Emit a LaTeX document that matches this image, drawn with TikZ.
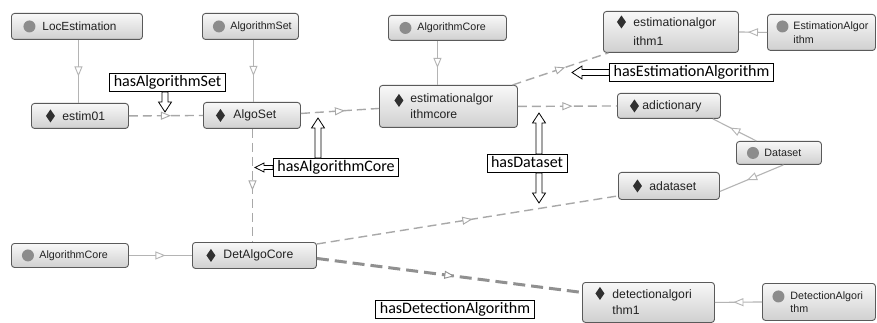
\documentclass[tikz,border=0pt]{standalone}
\usepackage{fontspec}
\setmainfont{Liberation Sans}
\newfontfamily\lblfamily{Carlito}
\usetikzlibrary{arrows.meta,decorations.markings,calc}
\definecolor{boxc}{HTML}{5A5A5A}
\definecolor{topc}{HTML}{F8F8F8}
\definecolor{botc}{HTML}{D0D0D0}
\definecolor{iconc}{HTML}{8C8C8C}
\definecolor{diac}{HTML}{303030}
\definecolor{txtc}{HTML}{222222}
\definecolor{typec}{HTML}{B4B4B4}
\definecolor{propc}{HTML}{A8A8A8}
\definecolor{thickc}{HTML}{909090}
\newcommand\indfont{\fontsize{12.2}{16}\selectfont}
\newcommand\clsfont{\fontsize{10.7}{13.5}\selectfont}
\newcommand\lblfont{\lblfamily\fontsize{16}{18}\selectfont}
\newcommand\gap[1]{\hspace*{#1pt}}
\def\blkS{3pt}\def\blkW{6.5pt}\def\blkH{10pt}
\begin{document}
\begin{tikzpicture}[x=1pt,y=-1pt,
  ent/.style={draw=boxc, line width=0.9pt, rounded corners=3pt, top color=topc, bottom color=botc,
    text=txtc, anchor=north west, inner xsep=0pt, inner ysep=0pt, align=left},
  cls/.style 2 args={ent, font=\clsfont,
    path picture={\fill[iconc] ([xshift=#1, yshift=#2]path picture bounding box.west) circle (6pt);}},
  ind/.style 2 args={ent, font=\indfont,
    path picture={\fill[diac, sharp corners] ([xshift=#1, yshift=#2]path picture bounding box.west)
      +(0pt,6.5pt) -- +(4.5pt,0pt) -- +(0pt,-6.5pt) -- +(-4.5pt,0pt) -- cycle;}},
  midarrow/.style={postaction={decorate, decoration={markings,
    mark=at position 0.5 with {\arrow[xshift=5pt]{Triangle[length=10pt,width=8pt,fill=white,line width=0.9pt]}}}}},
  typeedge/.style={draw=typec, line width=1.1pt, midarrow},
  propedge/.style={draw=propc, line width=1.4pt, dash pattern=on 9pt off 5pt, midarrow},
  thickedge/.style={draw=thickc, line width=3pt, dash pattern=on 12pt off 6pt, midarrow},
  lbl/.style={draw=black, fill=white, line width=0.8pt, font=\lblfont, text=black,
    inner xsep=4pt, inner ysep=1.5pt, text height=11.5pt, text depth=3.5pt},
  blksmall/.code={\def\blkS{2pt}\def\blkW{4.5pt}\def\blkH{9pt}},
  blk/.style={draw=black, fill=white, line width=0.8pt,
    to path={let \p1=(\tikztostart), \p2=(\tikztotarget), \n1={atan2(\y2-\y1,\x2-\x1)} in
      ([shift={(\n1+90:\blkS)}]\tikztostart)
      -- ([shift={(\n1+90:\blkS)}, shift={(\n1+180:\blkH)}]\tikztotarget)
      -- ([shift={(\n1+90:\blkW)}, shift={(\n1+180:\blkH)}]\tikztotarget)
      -- (\tikztotarget)
      -- ([shift={(\n1-90:\blkW)}, shift={(\n1+180:\blkH)}]\tikztotarget)
      -- ([shift={(\n1-90:\blkS)}, shift={(\n1+180:\blkH)}]\tikztotarget)
      -- ([shift={(\n1-90:\blkS)}]\tikztostart) -- cycle}}
]
\useasboundingbox (0,0) rectangle (877,323);
\fill[white] (0,0) rectangle (877,323);

% entities
\node[cls={18pt}{0pt}, font=\fontsize{11.8}{14}\selectfont, text width=131pt, minimum height=26pt] (loc) at (11,13) {\gap{31}LocEstimation};
\node[cls={16.5pt}{0pt}, text width=96pt, minimum height=26pt] (algset) at (202,13) {\gap{28}AlgorithmSet};
\node[cls={17pt}{0pt}, text width=118pt, minimum height=25pt] (algcoreT) at (388,15) {\gap{29}AlgorithmCore};
\node[ind={18pt}{10pt}, font=\fontsize{12.2}{19}\selectfont, text width=135pt, minimum height=41pt] (ea1) at (603,11) {\gap{30}estimationalgor\\\gap{30}ithm1};
\node[cls={15pt}{6pt}, text width=108pt, minimum height=36pt] (EA) at (767,14) {\gap{26}EstimationAlgor\\\gap{26}ithm};
\node[ind={19pt}{0pt}, text width=97pt, minimum height=25pt] (estim) at (31,103) {\gap{31}estim01};
\node[ind={17pt}{0pt}, text width=97pt, minimum height=26pt] (algoset) at (203,102) {\gap{30}AlgoSet};
\node[ind={19.5pt}{6pt}, text width=138pt, minimum height=42pt] (eacore) at (379,85) {\gap{31}estimationalgor\\\gap{31}ithmcore};
\node[ind={17pt}{0pt}, text width=103pt, minimum height=25pt] (adict) at (617,93) {\gap{25}adictionary};
\node[cls={16.5pt}{0pt}, text width=85pt, minimum height=23pt] (dataset) at (736,141) {\gap{28}Dataset};
\node[ind={19pt}{0pt}, text width=101pt, minimum height=27pt] (adata) at (618,172) {\gap{31}adataset};
\node[cls={16.5pt}{0pt}, text width=117pt, minimum height=24pt] (algcoreB) at (11,243) {\gap{28}AlgorithmCore};
\node[ind={18.5pt}{0pt}, text width=124pt, minimum height=26pt] (detcore) at (192,242) {\gap{31}DetAlgoCore};
\node[ind={17.5pt}{9pt}, text width=132pt, minimum height=40pt] (da1) at (582,282) {\gap{30}detectionalgori\\\gap{30}thm1};
\node[cls={16pt}{5.5pt}, text width=113pt, minimum height=37pt] (DA) at (762,283) {\gap{28}DetectionAlgori\\\gap{28}thm};

% type edges
\draw[typeedge] ([xshift=1.5pt]loc.south) -- ([xshift=-1.5pt]estim.north);
\draw[typeedge] ([xshift=3pt]algset.south) -- ([xshift=1.5pt]algoset.north);
\draw[typeedge] ([xshift=-10pt]algcoreT.south) -- ([xshift=-11pt]eacore.north);
\draw[typeedge] (EA.west) -- (ea1.east);
\draw[typeedge] ([xshift=-22.5pt]dataset.north) -- ([xshift=-8pt]adict.south east);
\draw[typeedge] ([xshift=4.5pt]dataset.south) -- ([yshift=-5.5pt]adata.east);
\draw[typeedge] (algcoreB.east) -- (detcore.west);
\draw[typeedge] (DA.west) -- (da1.east);

% property edges
\draw[propedge] (estim.east) -- (algoset.west);
\draw[propedge] ([yshift=2pt]algoset.east) -- ([yshift=-2pt]eacore.west);
\draw[propedge] ([xshift=0.5pt]algoset.south) -- ([xshift=-2pt]detcore.north);
\draw[propedge] (eacore) -- (ea1);
\draw[propedge] (eacore.east) -- (adict.west);
\draw[propedge] ([yshift=-2pt]detcore.north east) -- ([yshift=4pt]adata.south west);
\draw[thickedge] ([yshift=-3pt]detcore.east) -- ([yshift=10pt]da1.west);

% labels
\node[lbl] (lAS) at (167.5,82.5) {hasAlgorithmSet};
\node[lbl] (lAC) at (336,167.5) {hasAlgorithmCore};
\node[lbl] (lDS) at (527,163.5) {hasDataset};
\node[lbl] (lEA) at (691.5,72.5) {hasEstimationAlgorithm};
\node[lbl] (lDA) at (455,309) {hasDetectionAlgorithm};

\coordinate (tAS) at (165,112);
\coordinate (tAC1) at (255,167.5);
\coordinate (tAC2) at (318,118);
\coordinate (tDS1) at (539,113);
\coordinate (tDS2) at (539,203);
\coordinate (tEA) at (572,72.5);

\draw[blk] ([xshift=-2.5pt]lAS.south) to (tAS);
\draw[blk, blksmall] (lAC.west) to (tAC1);
\draw[blk] ([xshift=-18pt]lAC.north) to (tAC2);
\draw[blk] ([xshift=12pt]lDS.north) to (tDS1);
\draw[blk] ([xshift=12pt]lDS.south) to (tDS2);
\draw[blk] (lEA.west) to (tEA);
\end{tikzpicture}
\end{document}
